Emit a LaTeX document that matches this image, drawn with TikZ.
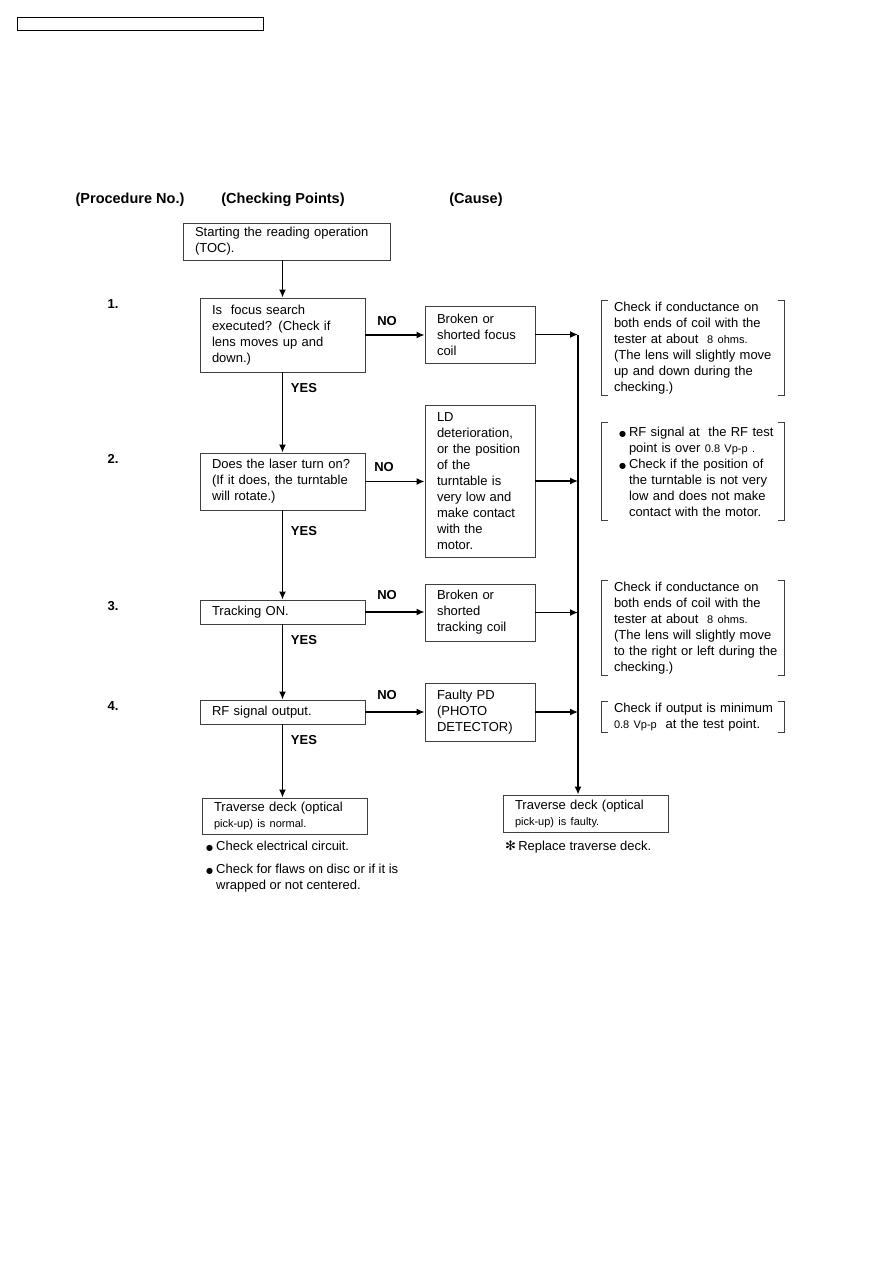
\documentclass[tikz,border=0pt]{standalone}
\usepackage{fontspec}
\setmainfont{Liberation Sans}
\newfontfamily\symfont{DejaVu Sans}
\usepackage{tikz}
\usetikzlibrary{arrows.meta,positioning}

\newcommand\txt{\fontsize{13}{16}\selectfont\hyphenpenalty=10000\exhyphenpenalty=10000}
\newcommand\sml{\fontsize{11}{16}\selectfont}
\newcommand\bdot{{\symfont\fontsize{8}{16}\selectfont ●}}
\newcommand\bul{\hspace*{15pt}\llap{\bdot\hspace{3pt}}}
\newcommand\ind{\hspace*{15pt}}

\begin{document}
\begin{tikzpicture}[
    x=1pt, y=-1pt,
    every node/.style={font=\txt},
    stepbox/.style={draw=black!75, line width=0.9pt, inner xsep=12pt, inner ysep=0pt, align=left},
    causebox/.style={stepbox, text width=86pt},
    note/.style={inner xsep=0pt, inner ysep=1pt, align=left, text width=170pt},
    lbl/.style={font=\fontsize{13}{16}\selectfont\bfseries},
    head/.style={font=\fontsize{14.5}{17}\selectfont\bfseries},
    arr/.style={-{Latex[length=8pt,width=7pt]}, line width=1.4pt},
]
\useasboundingbox (0,0) rectangle (893,1263);

% page header
\node[draw, line width=1pt, minimum width=246pt, minimum height=13pt, inner sep=0pt, anchor=north west] (pagehdr) at (17,17) {};

% column titles
\node[head] (hproc) at (130,200) {(Procedure No.)};
\node[head] (hcheck) at (283,200) {(Checking Points)};
\node[head] (hcause) at (476,200) {(Cause)};

% checking points
\node[stepbox, text width=183pt, minimum height=37pt] (start) at (286.5,241.5) {Starting the reading operation\\(TOC).};
\node[stepbox, text width=141pt, minimum height=74pt] (focus) at (282.5,335) {Is\ \ focus search\\executed? (Check if\\lens moves up and\\down.)};
\node[stepbox, text width=141pt, minimum height=57pt] (laser) at (282.5,481.5) {Does the laser turn on?\\(If it does, the turntable\\will rotate.)};
\node[stepbox, text width=141pt, minimum height=24pt] (track) at (282.5,612) {Tracking ON.};
\node[stepbox, text width=141pt, minimum height=24pt] (rfout) at (282.5,712) {RF signal output.};
\node[stepbox, text width=141pt, minimum height=36pt] (normal) at (284.5,816) {Traverse deck (optical\\{\sml pick-up) is normal.}};

% procedure numbers
\node[lbl] (p1) at (113,304) {1.};
\node[lbl] (p2) at (113,459) {2.};
\node[lbl] (p3) at (113,606) {3.};
\node[lbl] (p4) at (113,706) {4.};

% causes
\node[causebox, minimum height=57pt] (c1) at (480,334.5) {Broken or\\shorted focus\\coil};
\node[causebox, minimum height=152pt] (c2) at (480,481) {LD\\deterioration,\\or the position\\of the\\turntable is\\very low and\\make contact\\with the\\motor.};
\node[causebox, minimum height=57pt] (c3) at (480,612.5) {Broken or\\shorted\\tracking coil};
\node[causebox, minimum height=58pt] (c4) at (480,712) {Faulty PD\\(PHOTO\\DETECTOR)};
\node[stepbox, text width=141pt, minimum height=37pt] (faulty) at (585.5,813.5) {Traverse deck (optical\\{\sml pick-up) is faulty.}};

% notes
\node[note, minimum height=94pt] (n1) at (699,348) {Check if conductance on\\both ends of coil with the\\tester at about\ \ {\sml 8 ohms.}\\(The lens will slightly move\\up and down during the\\checking.)};
\node[note, minimum height=97pt] (n2) at (699,471.5) {\bul RF signal at\ \ the RF test\\\ind point is over\ {\sml 0.8 Vp-p .}\\\bul Check if the position of\\\ind the turntable is not very\\\ind low and does not make\\\ind contact with the motor.};
\node[note, minimum height=94pt] (n3) at (699,628) {Check if conductance on\\both ends of coil with the\\tester at about\ \ {\sml 8 ohms.}\\(The lens will slightly move\\to the right or left during the\\checking.)};
\node[note, minimum height=30pt] (n4) at (699,717) {Check if output is minimum\\{\sml 0.8 Vp-p}\ \ at the test point.};
\foreach \n in {n1,n2,n3,n4}
    \draw[line width=0.8pt, black!75] ([xshift=-6pt]\n.north west) -- ([xshift=-12pt]\n.north west) -- ([xshift=-12pt]\n.south west) -- ([xshift=-6pt]\n.south west)
        ([xshift=-6pt]\n.north east) -- (\n.north east) -- (\n.south east) -- ([xshift=-6pt]\n.south east);

% remarks under the end boxes
\node[align=left, inner sep=0pt, anchor=north west] (checks) at (216,841) {\llap{\bdot\hspace{3pt}}Check electrical circuit.\\[7pt]\llap{\bdot\hspace{3pt}}Check for flaws on disc or if it is\\wrapped or not centered.};
\node[inner sep=0pt, anchor=north west] (replace) at (505,841) {{\symfont\fontsize{13}{16}\selectfont ✻}\,Replace traverse deck.};

% YES / NO
\node[lbl] (no1) at (387,321) {NO};
\node[lbl] (no2) at (384,467) {NO};
\node[lbl] (no3) at (387,595) {NO};
\node[lbl] (no4) at (387,695) {NO};
\node[lbl] (yes1) at (304,388) {YES};
\node[lbl] (yes2) at (304,531) {YES};
\node[lbl] (yes3) at (304,640) {YES};
\node[lbl] (yes4) at (304,740) {YES};

% main flow
\draw[arr] (focus.north |- start.south) -- (focus.north);
\draw[arr] (focus.south) -- (laser.north);
\draw[arr] (laser.south) -- (track.north);
\draw[arr] (track.south) -- (rfout.north);
\draw[arr] (rfout.south) -- (rfout.south |- normal.north);

% NO branches
\draw[arr] (focus.east) -- (focus.east -| c1.west);
\draw[arr] (laser.east) -- (laser.east -| c2.west);
\draw[arr] (track.east) -- (track.east -| c3.west);
\draw[arr] (rfout.east) -- (rfout.east -| c4.west);

% collecting line
\coordinate (b1) at (578,335);
\coordinate (b2) at (578,481);
\coordinate (b3) at (578,612);
\coordinate (b4) at (578,712);
\draw[arr] (c1.east) -- (c1.east -| b1);
\draw[arr] (c2.east) -- (c2.east -| b2);
\draw[arr] (c3.east) -- (c3.east -| b3);
\draw[arr] (c4.east) -- (c4.east -| b4);
\draw[arr, line width=1.8pt] (b1) -- (b1 |- faulty.north);
\end{tikzpicture}
\end{document}
